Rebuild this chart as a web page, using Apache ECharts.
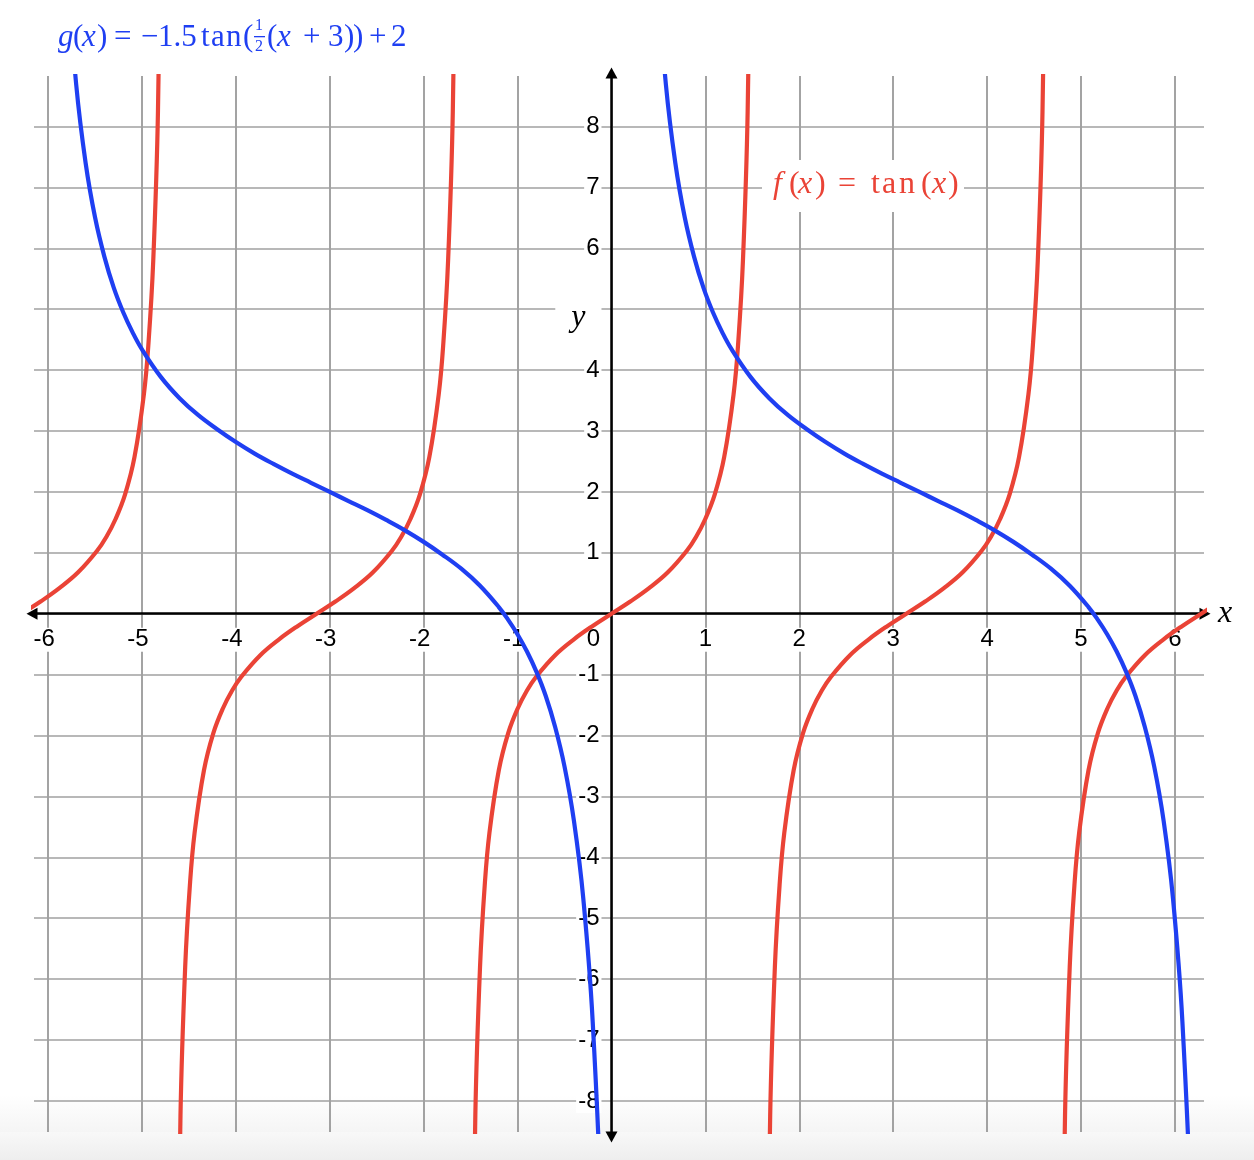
<!DOCTYPE html>
<html>
<head>
<meta charset="utf-8">
<script src="https://cdn.jsdelivr.net/npm/echarts@6/dist/echarts.min.js"></script>
<style>
  html, body { margin: 0; padding: 0; background: #fff; }
  #chart { width: 1254px; height: 1160px; }
</style>
</head>
<body>
<div id="chart"></div>
<script>
// tick labels and grid positions
var xTicks = [-6, -5, -4, -3, -2, -1, 0, 1, 2, 3, 4, 5, 6];
var yTicks = [-8, -7, -6, -5, -4, -3, -2, -1, 1, 2, 3, 4, 5, 6, 7, 8];
var gridX = [-6, -5, -4, -3, -2, -1, 0, 1, 2, 3, 4, 5, 6];
var gridY = [-8, -7, -6, -5, -4, -3, -2, -1, 0, 1, 2, 3, 4, 5, 6, 7, 8];

// f(x) = tan(x), one array per branch
var tanBranch1 = [[-6.48, -0.20], [-6.28, 0], [-6.08, 0.20], [-5.88, 0.42], [-5.68, 0.68], [-5.48, 1.03], [-5.38, 1.26], [-5.28, 1.56], [-5.18, 1.96], [-5.08, 2.57], [-4.98, 3.60], [-4.93, 4.46], [-4.88, 5.80], [-4.83, 8.24], [-4.78, 14.10]];
var tanBranch2 = [[-4.64, -14.10], [-4.59, -8.24], [-4.54, -5.80], [-4.49, -4.46], [-4.44, -3.60], [-4.34, -2.57], [-4.24, -1.96], [-4.14, -1.56], [-4.04, -1.26], [-3.94, -1.03], [-3.74, -0.68], [-3.54, -0.42], [-3.34, -0.20], [-3.14, 0], [-2.94, 0.20], [-2.74, 0.42], [-2.54, 0.68], [-2.34, 1.03], [-2.24, 1.26], [-2.14, 1.56], [-2.04, 1.96], [-1.94, 2.57], [-1.84, 3.60], [-1.79, 4.46], [-1.74, 5.80], [-1.69, 8.24], [-1.64, 14.10]];
var tanBranch3 = [[-1.50, -14.10], [-1.45, -8.24], [-1.40, -5.80], [-1.35, -4.46], [-1.30, -3.60], [-1.20, -2.57], [-1.10, -1.96], [-1.00, -1.56], [-0.90, -1.26], [-0.80, -1.03], [-0.60, -0.68], [-0.40, -0.42], [-0.20, -0.20], [0, 0], [0.20, 0.20], [0.40, 0.42], [0.60, 0.68], [0.80, 1.03], [0.90, 1.26], [1.00, 1.56], [1.10, 1.96], [1.20, 2.57], [1.30, 3.60], [1.35, 4.46], [1.40, 5.80], [1.45, 8.24], [1.50, 14.10]];
var tanBranch4 = [[1.64, -14.10], [1.69, -8.24], [1.74, -5.80], [1.79, -4.46], [1.84, -3.60], [1.94, -2.57], [2.04, -1.96], [2.14, -1.56], [2.24, -1.26], [2.34, -1.03], [2.54, -0.68], [2.74, -0.42], [2.94, -0.20], [3.14, 0], [3.34, 0.20], [3.54, 0.42], [3.74, 0.68], [3.94, 1.03], [4.04, 1.26], [4.14, 1.56], [4.24, 1.96], [4.34, 2.57], [4.44, 3.60], [4.49, 4.46], [4.54, 5.80], [4.59, 8.24], [4.64, 14.10]];
var tanBranch5 = [[4.78, -14.10], [4.83, -8.24], [4.88, -5.80], [4.93, -4.46], [4.98, -3.60], [5.08, -2.57], [5.18, -1.96], [5.28, -1.56], [5.38, -1.26], [5.48, -1.03], [5.68, -0.68], [5.88, -0.42], [6.08, -0.20], [6.28, 0], [6.48, 0.20]];

// g(x) = -1.5 tan((x+3)/2) + 2, two branches
var gBranchA = [[-6.00, 23.15], [-5.90, 14.36], [-5.80, 10.70], [-5.70, 8.68], [-5.60, 7.40], [-5.50, 6.51], [-5.40, 5.86], [-5.30, 5.35], [-5.20, 4.95], [-5.10, 4.62], [-5.00, 4.34], [-4.80, 3.89], [-4.60, 3.54], [-4.40, 3.26], [-4.20, 3.03], [-4.00, 2.82], [-3.80, 2.63], [-3.60, 2.46], [-3.40, 2.30], [-3.20, 2.15], [-3.00, 2.00], [-2.80, 1.85], [-2.60, 1.70], [-2.40, 1.54], [-2.20, 1.37], [-2.00, 1.18], [-1.80, 0.97], [-1.60, 0.74], [-1.40, 0.46], [-1.20, 0.11], [-1.10, -0.10], [-1.00, -0.34], [-0.90, -0.62], [-0.80, -0.95], [-0.70, -1.35], [-0.60, -1.86], [-0.50, -2.51], [-0.40, -3.40], [-0.30, -4.68], [-0.20, -6.70], [-0.10, -10.36], [0.00, -19.15]];
var gBranchB = [[0.28, 23.15], [0.38, 14.36], [0.48, 10.70], [0.58, 8.68], [0.68, 7.40], [0.78, 6.51], [0.88, 5.86], [0.98, 5.35], [1.08, 4.95], [1.18, 4.62], [1.28, 4.34], [1.48, 3.89], [1.68, 3.54], [1.88, 3.26], [2.08, 3.03], [2.28, 2.82], [2.48, 2.63], [2.68, 2.46], [2.88, 2.30], [3.08, 2.15], [3.28, 2.00], [3.48, 1.85], [3.68, 1.70], [3.88, 1.54], [4.08, 1.37], [4.28, 1.18], [4.48, 0.97], [4.68, 0.74], [4.88, 0.46], [5.08, 0.11], [5.18, -0.10], [5.28, -0.34], [5.38, -0.62], [5.48, -0.95], [5.58, -1.35], [5.68, -1.86], [5.78, -2.51], [5.88, -3.40], [5.98, -4.68], [6.08, -6.70], [6.18, -10.36], [6.28, -19.15]];

var RED = '#ea4336';
var BLUE = '#1f3ff2';
var SANS = '"Liberation Sans", Arial, sans-serif';
var SERIF = '"Liberation Serif", "DejaVu Serif", serif';

var X_MIN = -6.15, X_MAX = 6.31, Y_MIN = -8.51, Y_MAX = 8.83;
var GRID = { left: 34, right: 50, top: 76, bottom: 28 };
var gridW = 1254 - GRID.left - GRID.right;
var gridH = 1160 - GRID.top - GRID.bottom;

var chart = echarts.init(document.getElementById('chart'));

function curve(name, data, color) {
  return {
    name: name,
    type: 'line',
    data: data,
    z: 3,
    smooth: 0.4,
    showSymbol: false,
    silent: true,
    clip: true,
    lineStyle: { color: color, width: 4.2 }
  };
}

// one glyph (or a short run) of the typeset formula labels
function piece(text, x, y, size, color, italic) {
  return {
    type: 'text', z: 60, x: x, y: y, silent: true,
    style: {
      text: text, fontFamily: SERIF, fontSize: size, fontStyle: italic ? 'italic' : 'normal',
      fill: color, align: 'left', verticalAlign: 'middle'
    }
  };
}

// grid lines drawn as mark lines so they sit on whole numbers
var gridLines = [];
gridX.forEach(function (v) { gridLines.push({ xAxis: v, lineStyle: { color: '#8c8c8c' } }); });
gridY.forEach(function (v) { gridLines.push({ yAxis: v, lineStyle: { color: '#a0a0a0' } }); });

var option = {
  backgroundColor: '#fff',
  animation: false,
  grid: { left: GRID.left, right: GRID.right, top: GRID.top, bottom: GRID.bottom, containLabel: false, outerBoundsMode: 'none' },
  xAxis: {
    type: 'value',
    min: X_MIN,
    max: X_MAX,
    position: 'bottom',
    // move the axis up onto y = 0
    offset: -(0 - Y_MIN) / (Y_MAX - Y_MIN) * gridH,
    z: 2,
    splitLine: { show: false },
    axisTick: { show: false },
    axisLine: {
      onZero: false,
      symbol: ['triangle', 'triangle'],
      symbolSize: [12, 11],
      symbolOffset: [-2, 1],
      lineStyle: { color: '#000', width: 2.5 }
    },
    axisLabel: {
      customValues: xTicks,
      margin: 14,
      formatter: function (v) {
        if (v === 0) return '{n|0}{gap| }';
        if (v < 0) return '{m|' + v + '}';
        return '{n|' + v + '}';
      },
      rich: {
        n: { fontSize: 24, fontFamily: SANS, color: '#000', backgroundColor: '#fff', padding: [0, 2] },
        m: { fontSize: 24, fontFamily: SANS, color: '#000', backgroundColor: '#fff', padding: [0, 8, 0, 0] },
        gap: { width: 36, fontSize: 24 }
      }
    },
    name: 'x',
    nameLocation: 'end',
    nameGap: 14,
    nameTextStyle: { fontFamily: SERIF, fontStyle: 'italic', fontSize: 32, color: '#000', padding: [0, 0, 20, 0] }
  },
  yAxis: {
    type: 'value',
    min: Y_MIN,
    max: Y_MAX,
    position: 'left',
    // move the axis right onto x = 0
    offset: -(0 - X_MIN) / (X_MAX - X_MIN) * gridW,
    z: 2,
    splitLine: { show: false },
    axisTick: { show: false },
    axisLine: {
      onZero: false,
      symbol: ['triangle', 'triangle'],
      symbolSize: [12, 11],
      symbolOffset: [-5, 3],
      lineStyle: { color: '#000', width: 2.5 }
    },
    axisLabel: {
      customValues: yTicks,
      margin: 10,
      formatter: function (v) {
        if (v === 5) return '{y|y}';
        return '{n|' + v + '}';
      },
      rich: {
        n: { fontSize: 24, fontFamily: SANS, color: '#000', backgroundColor: '#fff', padding: [0, 2] },
        y: { fontSize: 32, fontFamily: SERIF, fontStyle: 'italic', color: '#000', backgroundColor: '#fff', padding: [16, 16, 0, 16] }
      }
    }
  },
  graphic: [
    // light band at the bottom of the screenshot
    {
      type: 'rect', z: -1, silent: true,
      shape: { x: 0, y: 1095, width: 1254, height: 37 },
      style: {
        fill: new echarts.graphic.LinearGradient(0, 0, 0, 1, [
          { offset: 0, color: '#ffffff' },
          { offset: 1, color: '#f5f5f5' }
        ])
      }
    },
    {
      type: 'rect', z: -1, silent: true,
      shape: { x: 0, y: 1132, width: 1254, height: 28 },
      style: {
        fill: new echarts.graphic.LinearGradient(0, 0, 0, 1, [
          { offset: 0, color: '#f8f8f8' },
          { offset: 1, color: '#eeeeee' }
        ])
      }
    },
    // f(x) label on a white box
    { type: 'rect', z: 55, silent: true, shape: { x: 762, y: 160, width: 202, height: 52 }, style: { fill: '#fff' } },
    piece('f', 773, 185, 32, RED, true),
    piece('(', 789, 185, 32, RED, false),
    piece('x', 798, 185, 32, RED, true),
    piece(')', 815, 185, 32, RED, false),
    piece('=', 838, 185, 32, RED, false),
    piece('t', 871, 185, 32, RED, false),
    piece('a', 882, 185, 32, RED, false),
    piece('n', 899, 185, 32, RED, false),
    piece('(', 921, 185, 32, RED, false),
    piece('x', 932, 185, 32, RED, true),
    piece(')', 948, 185, 32, RED, false),
    // g(x) title
    piece('g', 58, 38, 31, BLUE, true),
    piece('(', 73, 38, 31, BLUE, false),
    piece('x', 82, 38, 31, BLUE, true),
    piece(')', 97, 38, 31, BLUE, false),
    piece('=', 114, 38, 31, BLUE, false),
    piece('\u2212', 141, 38, 31, BLUE, false),
    piece('1.5', 158, 38, 31, BLUE, false),
    piece('t', 201, 38, 31, BLUE, false),
    piece('a', 211, 38, 31, BLUE, false),
    piece('n', 226, 38, 31, BLUE, false),
    piece('(', 243, 38, 31, BLUE, false),
    {
      type: 'text', z: 60, x: 259, y: 26, silent: true,
      style: { text: '1', fontFamily: SERIF, fontSize: 16, fill: BLUE, align: 'center', verticalAlign: 'middle' }
    },
    { type: 'rect', z: 60, silent: true, shape: { x: 254, y: 36, width: 11, height: 1.3 }, style: { fill: BLUE } },
    {
      type: 'text', z: 60, x: 259, y: 47, silent: true,
      style: { text: '2', fontFamily: SERIF, fontSize: 16, fill: BLUE, align: 'center', verticalAlign: 'middle' }
    },
    piece('(', 267, 38, 31, BLUE, false),
    piece('x', 277, 38, 31, BLUE, true),
    piece('+', 303, 38, 31, BLUE, false),
    piece('3', 328, 38, 31, BLUE, false),
    piece(')', 344, 38, 31, BLUE, false),
    piece(')', 353, 38, 31, BLUE, false),
    piece('+', 369, 38, 31, BLUE, false),
    piece('2', 391, 38, 31, BLUE, false)
  ],
  series: [
    {
      type: 'line',
      data: [],
      z: 1,
      silent: true,
      markLine: {
        z: 1,
        silent: true,
        symbol: ['none', 'none'],
        label: { show: false },
        lineStyle: { type: 'solid', width: 1.6, color: '#a0a0a0' },
        emphasis: { disabled: true },
        animation: false,
        data: gridLines
      }
    },
    curve('f', tanBranch1, RED),
    curve('f', tanBranch2, RED),
    curve('f', tanBranch3, RED),
    curve('f', tanBranch4, RED),
    curve('f', tanBranch5, RED),
    curve('g', gBranchA, BLUE),
    curve('g', gBranchB, BLUE)
  ]
};

chart.setOption(option);
</script>
</body>
</html>
